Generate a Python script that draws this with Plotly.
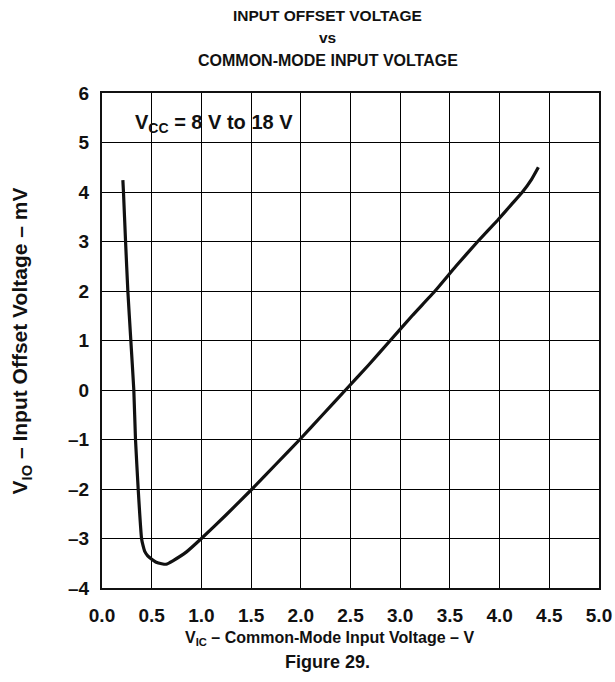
import plotly.graph_objects as go

# curve
v_ic = [0.21, 0.216, 0.237, 0.26, 0.29, 0.32, 0.337, 0.364, 0.398, 0.41, 0.43, 0.46,
        0.50, 0.545, 0.60, 0.646, 0.713, 0.85, 1.00, 1.25, 1.51, 1.75, 1.99, 2.22,
        2.45, 2.68, 2.90, 3.12, 3.35, 3.56, 3.78, 3.98, 4.12, 4.23, 4.32, 4.39]
v_io = [4.24, 4.00, 3.00, 2.00, 1.00, 0.00, -1.00, -2.00, -3.00, -3.12, -3.26, -3.35,
        -3.42, -3.48, -3.51, -3.52, -3.45, -3.27, -3.00, -2.52, -2.00, -1.50, -1.00, -0.50,
        0.00, 0.50, 1.00, 1.50, 2.00, 2.50, 3.00, 3.43, 3.75, 4.00, 4.25, 4.50]

x_ticks = [0.0, 0.5, 1.0, 1.5, 2.0, 2.5, 3.0, 3.5, 4.0, 4.5, 5.0]
x_labels = ["0.0", "0.5", "1.0", "1.5", "2.0", "2.5", "3.0", "3.5", "4.0", "4.5", "5.0"]
y_ticks = [-4, -3, -2, -1, 0, 1, 2, 3, 4, 5, 6]
y_labels = ["\u20134", "\u20133", "\u20132", "\u20131", "0", "1", "2", "3", "4", "5", "6"]

FONT = "Liberation Sans, Arial, sans-serif"
INK = "#111111"

fig = go.Figure(go.Scatter(
    x=v_ic, y=v_io, mode="lines",
    line=dict(color=INK, width=3.2, shape="spline", smoothing=0.4),
    showlegend=False, hoverinfo="skip",
))

axis_common = dict(
    showgrid=True, gridcolor="#000000", gridwidth=1.2,
    showline=True, linecolor=INK, linewidth=2.2, mirror=True,
    ticks="outside", tickcolor="rgba(0,0,0,0)",
    zeroline=False, automargin=False,
    tickfont=dict(family=FONT, size=19, color=INK),
)
fig.update_xaxes(range=[0, 5], tickvals=x_ticks, ticklen=9,
                 ticktext=["<b>%s</b>" % t for t in x_labels], **axis_common)
fig.update_yaxes(range=[-4, 6], tickvals=y_ticks, ticklen=7,
                 ticktext=["<b>%s</b>" % t for t in y_labels], **axis_common)

# plot box: x 102..599 px, y 93..588 px
def px(xp):
    return (xp - 102.5) / 496.5

def py(yp):
    return (588 - yp) / 495

def ann(text, x, y, size=16, xanchor="center", **kw):
    fig.add_annotation(text="<b>%s</b>" % text, x=px(x), y=py(y), xref="paper", yref="paper",
                       xanchor=xanchor, yanchor="middle", showarrow=False,
                       font=dict(family=FONT, size=size, color=INK), **kw)

ann("INPUT OFFSET VOLTAGE", 328, 15, size=15.5)
ann("vs", 328, 38, size=15.5)
ann("COMMON-MODE INPUT VOLTAGE", 328, 60)
ann("V<sub>CC</sub> = 8 V to 18 V", 133, 124, size=20, xanchor="left")
ann("V<sub>IC</sub> \u2013 Common-Mode Input Voltage \u2013 V", 330, 638, size=16)
ann("Figure 29.", 328, 662, size=18)
ann("V<sub>IO</sub> \u2013 Input Offset Voltage \u2013 mV", 22, 341, size=21, textangle=-90)

fig.update_layout(
    width=615, height=682,
    margin=dict(l=102, r=16, t=93, b=94),
    paper_bgcolor="white", plot_bgcolor="white",
)

# drop the default 8px page margin so the figure fills the window exactly
fig.write_html("out.html", config={"displayModeBar": False},
               post_script="document.body.style.margin='0';")
